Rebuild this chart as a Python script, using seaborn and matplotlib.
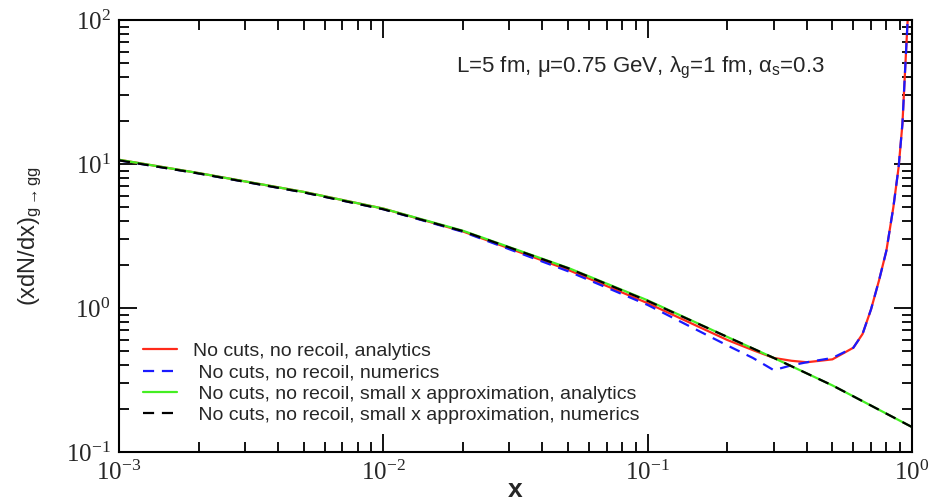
import matplotlib
matplotlib.use("Agg")
import matplotlib.pyplot as plt
import matplotlib.ticker as mticker
import numpy as np
import pandas as pd
import seaborn as sns

# Gluon splitting spectrum x dN/dx for g -> gg
x_small = [0.001, 0.002, 0.005, 0.01, 0.02, 0.05, 0.1, 0.2, 0.3, 0.5, 0.7, 1.0]
small_x_analytic = [10.7, 8.65, 6.4, 4.9, 3.44, 1.9, 1.13, 0.63, 0.45, 0.29, 0.21, 0.149]
small_x_numeric = [10.6, 8.6, 6.35, 4.85, 3.42, 1.89, 1.12, 0.63, 0.45, 0.29, 0.21, 0.149]

x_full = [0.001, 0.002, 0.005, 0.01, 0.02, 0.05, 0.1, 0.2, 0.25, 0.3, 0.35, 0.4, 0.5,
          0.6, 0.65, 0.7, 0.75, 0.8, 0.85, 0.89, 0.92, 0.94, 0.96, 0.975]
full_analytic = [10.7, 8.65, 6.4, 4.9, 3.4, 1.84, 1.08, 0.6, 0.51, 0.45, 0.43, 0.42, 0.44,
                 0.53, 0.66, 0.98, 1.55, 2.5, 5.0, 9.5, 19, 42, 90, 150]
full_numeric = [10.6, 8.6, 6.35, 4.85, 3.38, 1.8, 1.05, 0.55, 0.45, 0.37, 0.40, 0.42, 0.45,
                0.53, 0.66, 0.98, 1.55, 2.5, 5.0, 9.5, 19, 42, 90, 150]

labels = ["No cuts, no recoil, analytics",
          " No cuts, no recoil, numerics",
          " No cuts, no recoil, small x approximation, analytics",
          " No cuts, no recoil, small x approximation, numerics"]

sns.set_style("ticks")
plt.rcParams["font.family"] = ["Liberation Sans", "DejaVu Sans"]
plt.rcParams["mathtext.fontset"] = "custom"
plt.rcParams["mathtext.rm"] = "Liberation Serif"
plt.rcParams["mathtext.sf"] = "Liberation Sans"
plt.rcParams["mathtext.it"] = "Liberation Sans"

fig = plt.figure(figsize=(9.36, 5.04), dpi=100)
ax = fig.add_axes([119 / 936, 1 - 452 / 504, 793 / 936, 432 / 504])

series = [
    (x_full, full_analytic, "#ff2a1a", "-", labels[0]),
    (x_full, full_numeric, "#1a1aff", (0, (5, 3.5)), labels[1]),
    (x_small, small_x_analytic, "#44ee22", "-", labels[2]),
    (x_small, small_x_numeric, "#000000", (0, (5, 3.5)), labels[3]),
]
for xs, ys, col, ls, lab in series:
    df = pd.DataFrame({"x": xs, "y": ys})
    sns.lineplot(data=df, x="x", y="y", ax=ax, color=col, linestyle=ls,
                 linewidth=1.6, label=lab, sort=False)

ax.set_xscale("log")
ax.set_yscale("log")
ax.set_xlim(1e-3, 1.0)
ax.set_ylim(0.1, 100)

def sci(v, pos):
    e = int(round(np.log10(v)))
    return r"$\mathrm{10^{%d}}$" % e

for axis in (ax.xaxis, ax.yaxis):
    axis.set_major_locator(mticker.LogLocator(base=10, numticks=10))
    axis.set_minor_locator(mticker.LogLocator(base=10, subs=np.arange(2, 10), numticks=20))
    axis.set_major_formatter(mticker.FuncFormatter(sci))
    axis.set_minor_formatter(mticker.NullFormatter())

ax.tick_params(which="both", direction="in", top=True, right=True, width=1.3, color="black")
ax.tick_params(which="major", length=13, labelsize=18, pad=6)
ax.tick_params(which="minor", length=7)
for sp in ax.spines.values():
    sp.set_linewidth(1.5)
    sp.set_color("black")

ax.set_xlabel("x", fontsize=19, fontweight="bold", labelpad=-5)
ax.set_ylabel(r"(xdN/dx)$_{\mathsf{g\rightarrow gg}}$", fontsize=17, labelpad=16)

ax.text(0.658, 0.889, r"L=5 fm, $\mathsf{\mu}$=0.75 GeV, $\mathsf{\lambda_g}$=1 fm, $\mathsf{\alpha_s}$=0.3",
        transform=ax.transAxes, fontsize=16, ha="center", va="center")

leg = ax.legend(loc="center left", bbox_to_anchor=(0.0303, 0.159), frameon=False,
                fontsize=14, handlelength=1.75, handletextpad=0.8, labelspacing=0.19,
                borderpad=0, borderaxespad=0)

fig.savefig("out.png", dpi=100)
